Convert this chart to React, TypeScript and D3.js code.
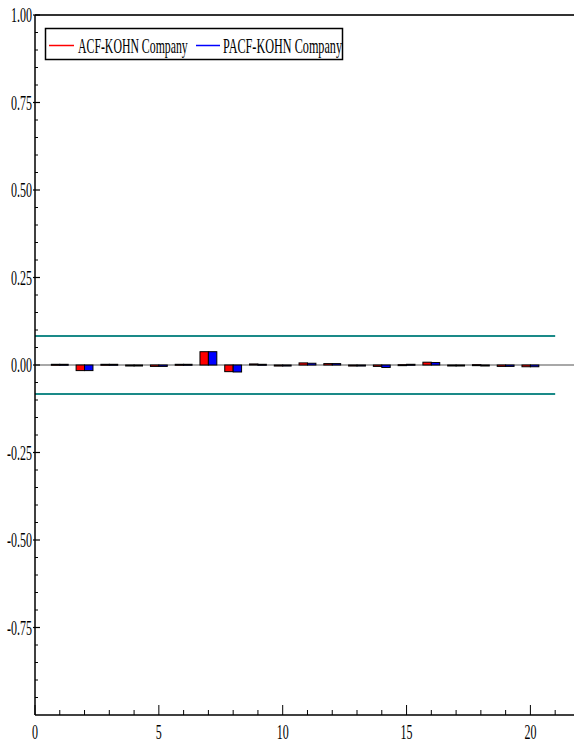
import React from "react";
import * as d3 from "d3";

const lags = [1, 2, 3, 4, 5, 6, 7, 8, 9, 10, 11, 12, 13, 14, 15, 16, 17, 18, 19, 20];
const acf = [0.002, -0.016, 0.002, -0.001, -0.004, 0.002, 0.038, -0.019, 0.003, -0.003, 0.006, 0.004, -0.003, -0.004, 0.001, 0.008, -0.001, 0.001, -0.004, -0.005];
const pacf = [0.002, -0.016, 0.002, -0.001, -0.004, 0.002, 0.038, -0.020, 0.002, -0.003, 0.005, 0.004, -0.003, -0.007, 0.002, 0.007, -0.001, -0.001, -0.004, -0.005];
const confBand = 0.083;
const yTickValues = [1.0, 0.75, 0.5, 0.25, 0.0, -0.25, -0.5, -0.75];
const xTickValues = [0, 5, 10, 15, 20];
const seriesNames = ["ACF-KOHN Company", "PACF-KOHN Company"];

const W = 574;
const H = 745;

export default function App() {
  const x = d3.scaleLinear().domain([0, 21.76]).range([35, 574]);
  const y = d3.scaleLinear().domain([-1, 1]).range([715, 15]);
  const bw = x(0.34) - x(0);
  const minorY = d3.range(-20, 21).map((i) => i * 0.05).filter((v) => v > -1 && v < 1 && !yTickValues.some((t) => Math.abs(t - v) < 1e-6));
  const minorX = d3.range(1, 22).filter((v) => v % 5 !== 0);
  const font = "'Liberation Serif', 'Times New Roman', serif";
  const sx = 0.6;
  const fmt = (v: number) => d3.format(".2f")(v).replace("\u2212", "-");

  return (
    <svg width={W} height={H} style={{ position: "absolute", left: 0, top: 0 }}>
      <rect x={0} y={0} width={W} height={H} fill="#fff" />
      {/* top border */}
      <line x1={x(0)} x2={574} y1={y(1)} y2={y(1)} stroke="#333" strokeWidth={2} />
      {/* confidence bands */}
      <line x1={x(0)} x2={x(21)} y1={y(confBand)} y2={y(confBand)} stroke="#1a8a88" strokeWidth={2} />
      <line x1={x(0)} x2={x(21)} y1={y(-confBand)} y2={y(-confBand)} stroke="#1a8a88" strokeWidth={2} />
      {/* zero line */}
      <line x1={x(0)} x2={574} y1={y(0)} y2={y(0)} stroke="#a8a8a8" strokeWidth={2} />
      {/* bars */}
      {lags.map((l, i) => {
        const a = acf[i];
        const p = pacf[i];
        return (
          <g key={l}>
            <rect x={x(l) - bw} y={Math.min(y(a), y(0))} width={bw} height={Math.max(Math.abs(y(a) - y(0)), 1)} fill="#ff0000" stroke="#000" strokeWidth={1} />
            <rect x={x(l)} y={Math.min(y(p), y(0))} width={bw} height={Math.max(Math.abs(y(p) - y(0)), 1)} fill="#0000ff" stroke="#000" strokeWidth={1} />
          </g>
        );
      })}
      {/* y axis */}
      <line x1={x(0)} x2={x(0)} y1={y(1)} y2={y(-1)} stroke="#000" strokeWidth={1.5} />
      {minorY.map((v) => (
        <line key={"my" + v} x1={x(0)} x2={x(0) + 3} y1={y(v)} y2={y(v)} stroke="#000" strokeWidth={1} />
      ))}
      {yTickValues.map((v) => (
        <g key={"y" + v}>
          <line x1={x(0) - 2} x2={x(0) + 5} y1={y(v)} y2={y(v)} stroke="#000" strokeWidth={1.2} />
          <text
            transform={`translate(${x(0) - 3},${y(v) + 7}) scale(${sx},1)`}
            textAnchor="end"
            fontFamily={font}
            fontSize={20}
            fill="#000"
          >
            {fmt(v)}
          </text>
        </g>
      ))}
      {/* x axis */}
      <line x1={x(0)} x2={574} y1={y(-1)} y2={y(-1)} stroke="#000" strokeWidth={1.5} />
      {minorX.map((v) => (
        <line key={"mx" + v} x1={x(v)} x2={x(v)} y1={y(-1)} y2={y(-1) - 5} stroke="#000" strokeWidth={1} />
      ))}
      {xTickValues.map((v) => (
        <g key={"x" + v}>
          <line x1={x(v)} x2={x(v)} y1={y(-1)} y2={y(-1) - 10} stroke="#000" strokeWidth={1} />
          <text
            transform={`translate(${x(v)},${739}) scale(${sx},1)`}
            textAnchor="middle"
            fontFamily={font}
            fontSize={20}
            fill="#000"
          >
            {v}
          </text>
        </g>
      ))}
      {/* legend */}
      <rect x={45.5} y={28.5} width={297} height={31} fill="#fff" stroke="#000" strokeWidth={1.5} />
      <line x1={49} x2={74} y1={45.5} y2={45.5} stroke="#ff0000" strokeWidth={1.5} />
      <text transform={`translate(78,52.5) scale(0.59,1)`} fontFamily={font} fontSize={20} fill="#000">
        {seriesNames[0]}
      </text>
      <line x1={196} x2={220} y1={45.5} y2={45.5} stroke="#0000ff" strokeWidth={1.5} />
      <text transform={`translate(223,52.5) scale(0.61,1)`} fontFamily={font} fontSize={20} fill="#000">
        {seriesNames[1]}
      </text>
    </svg>
  );
}
